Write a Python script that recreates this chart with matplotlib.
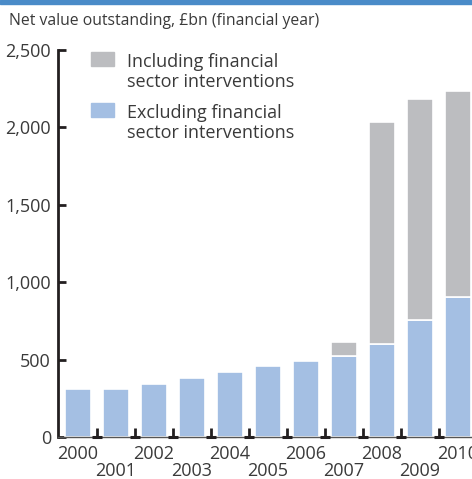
import matplotlib
matplotlib.use("Agg")
import matplotlib.pyplot as plt
from matplotlib.patches import Rectangle
import numpy as np

plt.rcParams['font.family'] = ['Open Sans', 'DejaVu Sans']

# Public sector net debt, £bn, by financial year
years = ["2000", "2001", "2002", "2003", "2004", "2005",
         "2006", "2007", "2008", "2009", "2010"]
excl_interventions = [310, 310, 342, 380, 420, 458, 490, 523, 602, 755, 903]
incl_interventions = [310, 310, 342, 380, 420, 458, 490, 613, 2032, 2183, 2234]
y_ticks = [0, 500, 1000, 1500, 2000, 2500]
y_tick_labels = ["0", "500", "1,000", "1,500", "2,000", "2,500"]

blue = "#a4bfe3"
grey = "#bcbdc0"
axis_col = "#231f20"
text_col = "#3a3a3a"

W, H = 472, 479
fig = plt.figure(figsize=(W / 100, H / 100), dpi=100)

# axes geometry (pixels): y-axis at x=58, baseline at y=437, 2500 at y=50
left_px, bottom_px, top_px = 58, 437, 50
ax = fig.add_axes([left_px / W, 1 - bottom_px / H, 1 - left_px / W,
                   (bottom_px - top_px) / H])

x = np.arange(len(years))
excl = np.array(excl_interventions)
incl = np.array(incl_interventions)
extra = incl - excl

bw = 0.70
ax.bar(x, excl, width=bw, color=blue, edgecolor="white", linewidth=1.2, zorder=2)
mask = extra > 0
ax.bar(x[mask], extra[mask], bottom=excl[mask], width=bw, color=grey,
       edgecolor="white", linewidth=1.2, zorder=2)

step = 38.0
ax.set_xlim(-(78 - left_px) / step, (W - 78) / step)
ax.set_ylim(0, 2500)

for s in ("top", "right"):
    ax.spines[s].set_visible(False)
ax.spines["left"].set_color(axis_col)
ax.spines["left"].set_linewidth(2.0)
ax.spines["bottom"].set_color("#555555")
ax.spines["bottom"].set_linewidth(1.0)

ax.set_yticks(y_ticks)
ax.set_yticklabels(y_tick_labels)
ax.tick_params(axis="y", direction="in", length=6, width=2.0, color=axis_col,
               labelsize=13, labelcolor=text_col, pad=5)

# tick marks between bars, labels under bars (staggered)
ax.set_xticks(x[:-1] + 0.5)
ax.set_xticklabels([])
ax.tick_params(axis="x", which="major", direction="in", length=6.5, width=2.0,
               color=axis_col)
ax.set_xticks(x, minor=True)
ax.set_xticklabels([y if i % 2 == 0 else "\n" + y for i, y in enumerate(years)],
                   minor=True)
ax.tick_params(axis="x", which="minor", length=0, labelsize=13,
               labelcolor=text_col, pad=6)
for lbl in ax.get_xticklabels(minor=True):
    lbl.set_linespacing(0.9)

# small foot on each x tick
ax.plot(x[:-1] + 0.5, np.zeros(len(x) - 1), linestyle="none", marker="_",
        markersize=7, markeredgewidth=2.2, color=axis_col, clip_on=False, zorder=3)

# key
def key(y_px, color, label):
    fig.add_artist(Rectangle((91 / W, 1 - (y_px + 14) / H), 23 / W, 14 / H,
                             transform=fig.transFigure, color=color))
    fig.text(127 / W, 1 - (y_px + 1) / H, label, fontsize=13, color=text_col,
             va="top", ha="left", linespacing=1.15)

key(52, grey, "Including financial\nsector interventions")
key(103, blue, "Excluding financial\nsector interventions")

# header
fig.add_artist(Rectangle((0, 1 - 4 / H), 1, 4 / H, transform=fig.transFigure,
                         color="#4a8bc8"))
fig.text(9 / W, 1 - 21 / H, "Net value outstanding, £bn (financial year)",
         fontsize=11.3, color=text_col, va="center", ha="left")

fig.savefig("out.png", dpi=100)
